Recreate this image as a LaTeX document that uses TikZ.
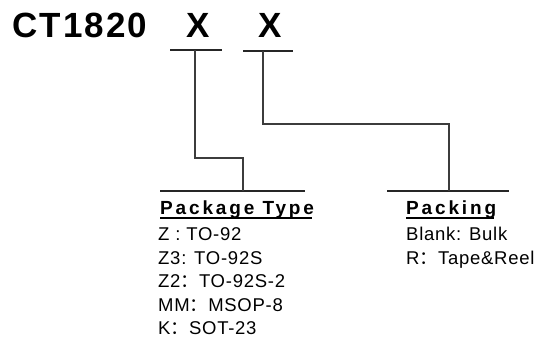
\documentclass[tikz,border=0pt]{standalone}
\usepackage{fontspec}
\setmainfont{Liberation Sans}
\newfontfamily\cjk{Noto Sans CJK SC}
\newfontfamily\codefont[LetterSpace=6]{Liberation Sans Bold}
\newfontfamily\headfont[LetterSpace=15]{Liberation Sans Bold}
\newfontfamily\itemfont[LetterSpace=4]{Liberation Sans}
\usetikzlibrary{calc}
\definecolor{trazo}{RGB}{60,60,60}
\newcommand{\fwcolon}{{\cjk ：}}

\begin{document}
\begin{tikzpicture}[x=1pt,y=-1pt,
  code/.style={inner sep=0pt,anchor=base,font=\fontsize{35}{35}\codefont},
  head/.style={inner sep=0pt,anchor=base west,font=\fontsize{19}{19}\headfont},
  item/.style={inner sep=0pt,anchor=base west,font=\fontsize{18.5}{18.5}\itemfont},
  leg/.style={draw=trazo,line width=1.1pt},
  bar/.style={draw=black!85,line width=1.1pt}]
	\useasboundingbox (0,0) rectangle (539,347);
	% part number
	\node[code,anchor=base west] (pn) at (12,38) {CT1820};
	\node[code] (x1) at (198,38) {X};
	\node[code] (x2) at (270,38) {X};
	% bars under the letters and over the legends
	\coordinate (u1w) at (170,50); \coordinate (u1e) at (222,50);
	\coordinate (u2w) at (243,51); \coordinate (u2e) at (293,51);
	\coordinate (b1w) at (160,191); \coordinate (b1e) at (305,191);
	\coordinate (b2w) at (387,191); \coordinate (b2e) at (509,191);
	\draw[bar] (u1w) -- (u1e);
	\draw[bar] (u2w) -- (u2e);
	\draw[bar] (b1w) -- (b1e);
	\draw[bar] (b2w) -- (b2e);
	% legs
	\coordinate (t1) at (195,50); \coordinate (e1) at (243,191);
	\coordinate (t2) at (263,51); \coordinate (e2) at (449,191);
	\draw[leg] (t1) -- (t1 |- 0,158) -| (e1);
	\draw[leg] (t2) -- (t2 |- 0,124) -| (e2);
	% package type
	\node[head] (pkg) at (160,215) {Package Type};
	\draw[line width=1.8pt] ([yshift=-3pt]pkg.base west) -- ([yshift=-3pt,xshift=-2.5pt]pkg.base east);
	\node[item] (z)  at (158,241) {Z : TO-92};
	\node[item] (z3) at (158,264.5) {Z3: TO-92S};
	\node[item] (z2) at (158,288) {Z2\fwcolon TO-92S-2};
	\node[item] (mm) at (158,311.5) {MM\fwcolon MSOP-8};
	\node[item] (k)  at (158,335) {K\fwcolon SOT-23};
	% packing
	\node[head] (pck) at (406,215) {Packing};
	\draw[line width=1.8pt] ([yshift=-3pt]pck.base west) -- ([yshift=-3pt,xshift=-2.5pt]pck.base east);
	\node[item] (bl) at (406,241) {Blank: Bulk};
	\node[item] (rr) at (406,264.5) {R\fwcolon Tape\&Reel};
\end{tikzpicture}
\end{document}
